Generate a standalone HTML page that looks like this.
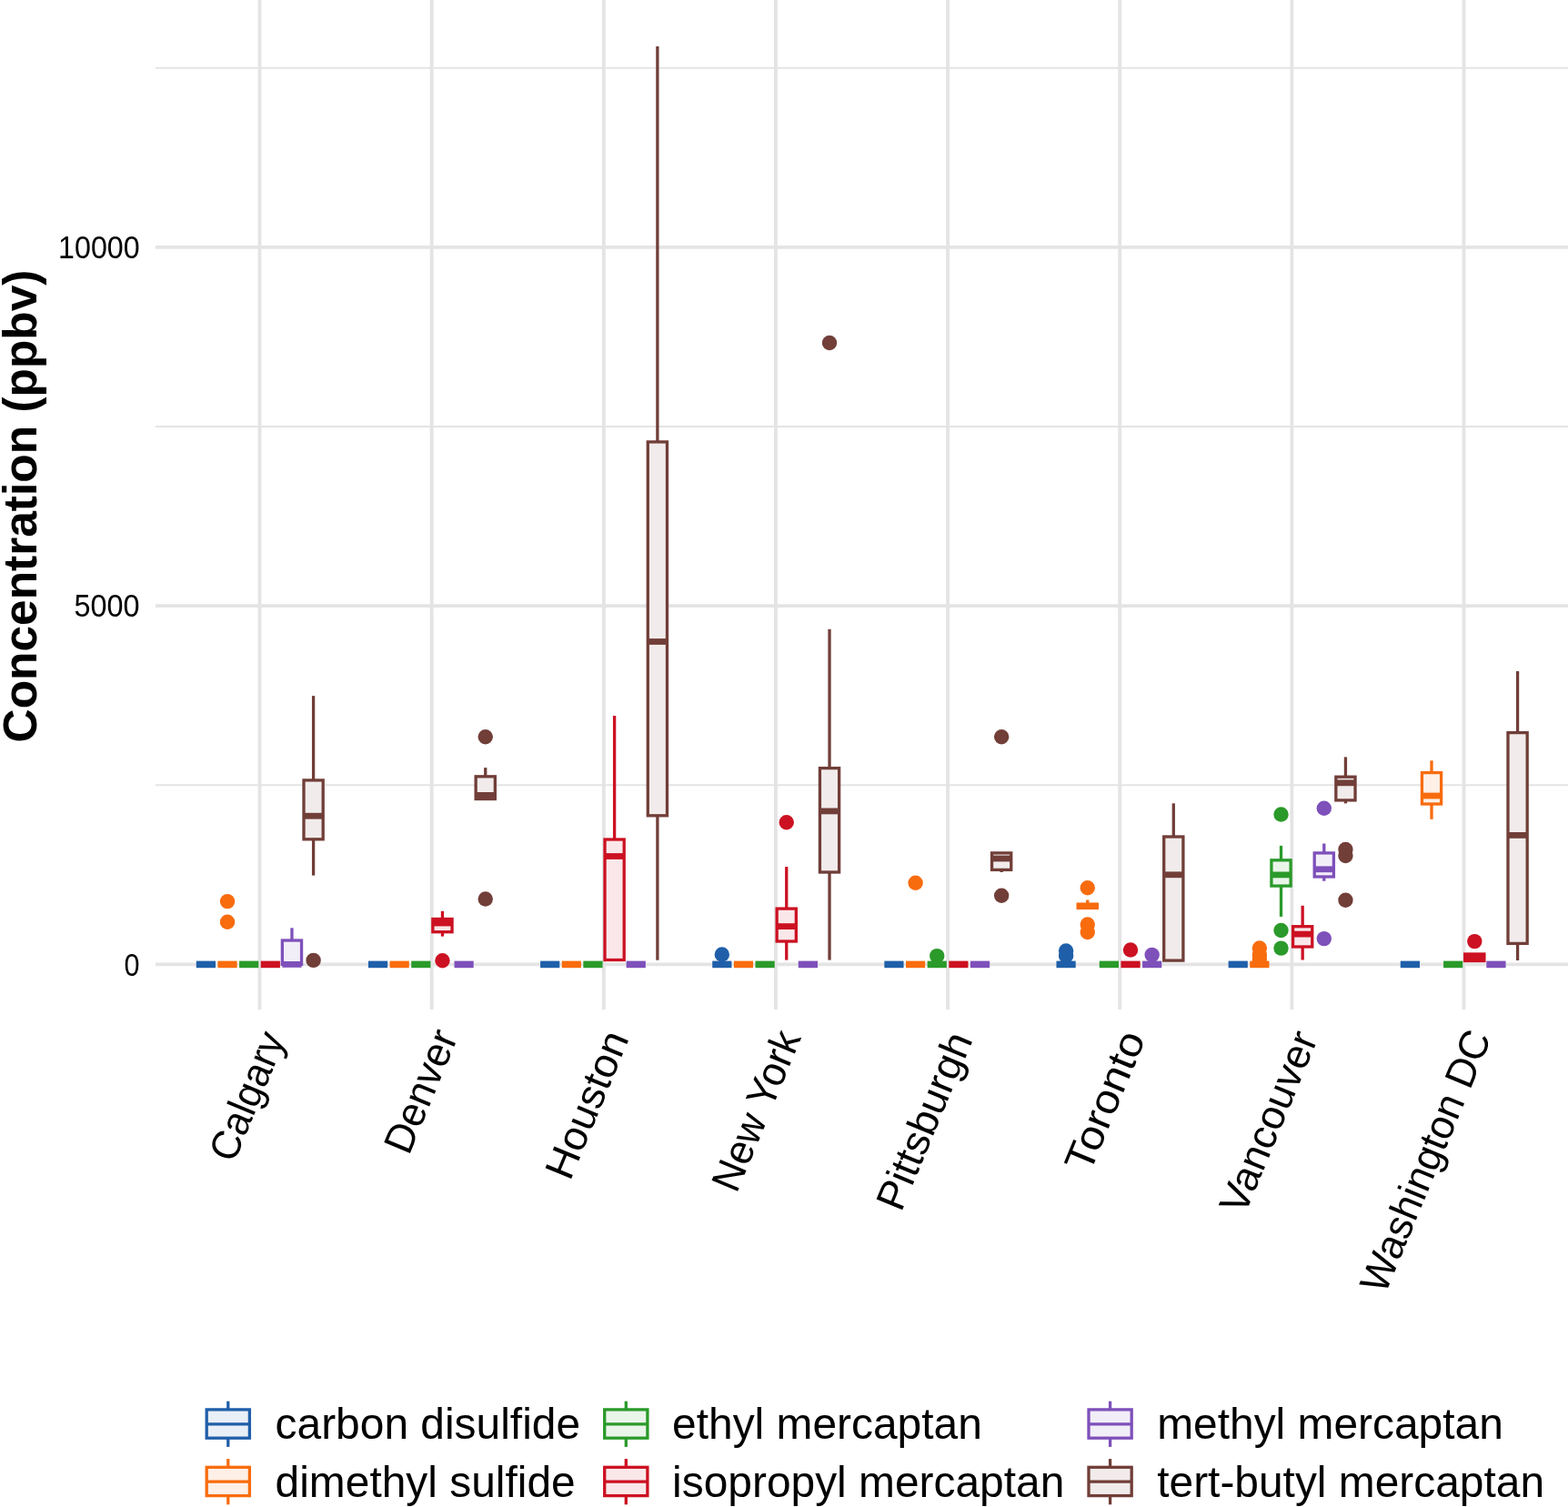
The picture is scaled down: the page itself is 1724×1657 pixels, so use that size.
<!DOCTYPE html><html><head><meta charset="utf-8"><title>Concentration boxplot</title><style>html,body{margin:0;padding:0;background:#fff;}svg{display:block;}text{font-family:"Liberation Sans",Arial,sans-serif;}</style></head><body>
<svg width="1724" height="1657" viewBox="0 0 1724 1657">
<rect x="0" y="0" width="1724" height="1657" fill="#ffffff"/>
<line x1="171.0" y1="863.25" x2="1724.0" y2="863.25" stroke="#e4e4e4" stroke-width="2.0"/>
<line x1="171.0" y1="468.95" x2="1724.0" y2="468.95" stroke="#e4e4e4" stroke-width="2.0"/>
<line x1="171.0" y1="74.65" x2="1724.0" y2="74.65" stroke="#e4e4e4" stroke-width="2.0"/>
<line x1="171.0" y1="1060.4" x2="1724.0" y2="1060.4" stroke="#e4e4e4" stroke-width="3.8"/>
<line x1="171.0" y1="666.1" x2="1724.0" y2="666.1" stroke="#e4e4e4" stroke-width="3.8"/>
<line x1="171.0" y1="271.8" x2="1724.0" y2="271.8" stroke="#e4e4e4" stroke-width="3.8"/>
<line x1="285.5" y1="0.0" x2="285.5" y2="1110.0" stroke="#e4e4e4" stroke-width="3.8"/>
<line x1="474.64" y1="0.0" x2="474.64" y2="1110.0" stroke="#e4e4e4" stroke-width="3.8"/>
<line x1="663.78" y1="0.0" x2="663.78" y2="1110.0" stroke="#e4e4e4" stroke-width="3.8"/>
<line x1="852.92" y1="0.0" x2="852.92" y2="1110.0" stroke="#e4e4e4" stroke-width="3.8"/>
<line x1="1042.06" y1="0.0" x2="1042.06" y2="1110.0" stroke="#e4e4e4" stroke-width="3.8"/>
<line x1="1231.2" y1="0.0" x2="1231.2" y2="1110.0" stroke="#e4e4e4" stroke-width="3.8"/>
<line x1="1420.34" y1="0.0" x2="1420.34" y2="1110.0" stroke="#e4e4e4" stroke-width="3.8"/>
<line x1="1609.48" y1="0.0" x2="1609.48" y2="1110.0" stroke="#e4e4e4" stroke-width="3.8"/>
<line x1="215.8" y1="1060.4" x2="237" y2="1060.4" stroke="#1f5fa9" stroke-width="7.6"/>
<circle cx="250.04" cy="991.1" r="8.2" fill="#f86c0e"/><circle cx="250.04" cy="1013.7" r="8.2" fill="#f86c0e"/><line x1="239.44" y1="1060.4" x2="260.64" y2="1060.4" stroke="#f86c0e" stroke-width="7.6"/>
<line x1="263.08" y1="1060.4" x2="284.28" y2="1060.4" stroke="#2a9a2a" stroke-width="7.6"/>
<line x1="286.72" y1="1060.4" x2="307.92" y2="1060.4" stroke="#cc1122" stroke-width="7.6"/>
<line x1="320.96" y1="1020.3" x2="320.96" y2="1034" stroke="#7e50ba" stroke-width="3.3"/><rect x="310.36" y="1034" width="21.2" height="26.4" fill="#f2eef8" stroke="#7e50ba" stroke-width="3.3" stroke-linejoin="miter"/><line x1="310.36" y1="1060.4" x2="331.56" y2="1060.4" stroke="#7e50ba" stroke-width="6.8"/>
<circle cx="344.6" cy="1055.9" r="8.2" fill="#713e38"/><line x1="344.6" y1="765.1" x2="344.6" y2="857.9" stroke="#713e38" stroke-width="3.3"/><line x1="344.6" y1="922.8" x2="344.6" y2="962.6" stroke="#713e38" stroke-width="3.3"/><rect x="334" y="857.9" width="21.2" height="64.9" fill="#f1eceb" stroke="#713e38" stroke-width="3.3" stroke-linejoin="miter"/><line x1="334" y1="897.2" x2="355.2" y2="897.2" stroke="#713e38" stroke-width="6.8"/>
<line x1="404.94" y1="1060.4" x2="426.14" y2="1060.4" stroke="#1f5fa9" stroke-width="7.6"/>
<line x1="428.58" y1="1060.4" x2="449.78" y2="1060.4" stroke="#f86c0e" stroke-width="7.6"/>
<line x1="452.22" y1="1060.4" x2="473.42" y2="1060.4" stroke="#2a9a2a" stroke-width="7.6"/>
<circle cx="486.46" cy="1056.2" r="8.2" fill="#cc1122"/><line x1="486.46" y1="1001.8" x2="486.46" y2="1010.5" stroke="#cc1122" stroke-width="3.3"/><line x1="486.46" y1="1024.7" x2="486.46" y2="1029.6" stroke="#cc1122" stroke-width="3.3"/><rect x="475.86" y="1010.5" width="21.2" height="14.2" fill="#fae7e9" stroke="#cc1122" stroke-width="3.3" stroke-linejoin="miter"/><line x1="475.86" y1="1015" x2="497.06" y2="1015" stroke="#cc1122" stroke-width="6.8"/>
<line x1="499.5" y1="1060.4" x2="520.7" y2="1060.4" stroke="#7e50ba" stroke-width="7.6"/>
<circle cx="533.74" cy="810.3" r="8.2" fill="#713e38"/><circle cx="533.74" cy="988.5" r="8.2" fill="#713e38"/><line x1="533.74" y1="844.1" x2="533.74" y2="853.8" stroke="#713e38" stroke-width="3.3"/><rect x="523.14" y="853.8" width="21.2" height="24.7" fill="#f1eceb" stroke="#713e38" stroke-width="3.3" stroke-linejoin="miter"/><line x1="523.14" y1="874.4" x2="544.34" y2="874.4" stroke="#713e38" stroke-width="6.8"/>
<line x1="594.08" y1="1060.4" x2="615.28" y2="1060.4" stroke="#1f5fa9" stroke-width="7.6"/>
<line x1="617.72" y1="1060.4" x2="638.92" y2="1060.4" stroke="#f86c0e" stroke-width="7.6"/>
<line x1="641.36" y1="1060.4" x2="662.56" y2="1060.4" stroke="#2a9a2a" stroke-width="7.6"/>
<line x1="675.6" y1="787.1" x2="675.6" y2="923" stroke="#cc1122" stroke-width="3.3"/><rect x="665" y="923" width="21.2" height="132.5" fill="#fae7e9" stroke="#cc1122" stroke-width="3.3" stroke-linejoin="miter"/><line x1="665" y1="941.5" x2="686.2" y2="941.5" stroke="#cc1122" stroke-width="6.8"/>
<line x1="688.64" y1="1060.4" x2="709.84" y2="1060.4" stroke="#7e50ba" stroke-width="7.6"/>
<line x1="722.88" y1="50.9" x2="722.88" y2="485.9" stroke="#713e38" stroke-width="3.3"/><line x1="722.88" y1="896.8" x2="722.88" y2="1055.7" stroke="#713e38" stroke-width="3.3"/><rect x="712.28" y="485.9" width="21.2" height="410.9" fill="#f1eceb" stroke="#713e38" stroke-width="3.3" stroke-linejoin="miter"/><line x1="712.28" y1="705.5" x2="733.48" y2="705.5" stroke="#713e38" stroke-width="6.8"/>
<circle cx="793.82" cy="1049.5" r="8.2" fill="#1f5fa9"/><line x1="783.22" y1="1060.4" x2="804.42" y2="1060.4" stroke="#1f5fa9" stroke-width="7.6"/>
<line x1="806.86" y1="1060.4" x2="828.06" y2="1060.4" stroke="#f86c0e" stroke-width="7.6"/>
<line x1="830.5" y1="1060.4" x2="851.7" y2="1060.4" stroke="#2a9a2a" stroke-width="7.6"/>
<circle cx="864.74" cy="904.2" r="8.2" fill="#cc1122"/><line x1="864.74" y1="953.1" x2="864.74" y2="999.1" stroke="#cc1122" stroke-width="3.3"/><line x1="864.74" y1="1035" x2="864.74" y2="1055.6" stroke="#cc1122" stroke-width="3.3"/><rect x="854.14" y="999.1" width="21.2" height="35.9" fill="#fae7e9" stroke="#cc1122" stroke-width="3.3" stroke-linejoin="miter"/><line x1="854.14" y1="1018.6" x2="875.34" y2="1018.6" stroke="#cc1122" stroke-width="6.8"/>
<line x1="877.78" y1="1060.4" x2="898.98" y2="1060.4" stroke="#7e50ba" stroke-width="7.6"/>
<circle cx="912.02" cy="377" r="8.2" fill="#713e38"/><line x1="912.02" y1="691.8" x2="912.02" y2="844.6" stroke="#713e38" stroke-width="3.3"/><line x1="912.02" y1="959" x2="912.02" y2="1055.6" stroke="#713e38" stroke-width="3.3"/><rect x="901.42" y="844.6" width="21.2" height="114.4" fill="#f1eceb" stroke="#713e38" stroke-width="3.3" stroke-linejoin="miter"/><line x1="901.42" y1="891.9" x2="922.62" y2="891.9" stroke="#713e38" stroke-width="6.8"/>
<line x1="972.36" y1="1060.4" x2="993.56" y2="1060.4" stroke="#1f5fa9" stroke-width="7.6"/>
<circle cx="1006.6" cy="970.8" r="8.2" fill="#f86c0e"/><line x1="996" y1="1060.4" x2="1017.2" y2="1060.4" stroke="#f86c0e" stroke-width="7.6"/>
<circle cx="1030.24" cy="1051.1" r="8.2" fill="#2a9a2a"/><line x1="1019.64" y1="1060.4" x2="1040.84" y2="1060.4" stroke="#2a9a2a" stroke-width="7.6"/>
<line x1="1043.28" y1="1060.4" x2="1064.48" y2="1060.4" stroke="#cc1122" stroke-width="7.6"/>
<line x1="1066.92" y1="1060.4" x2="1088.12" y2="1060.4" stroke="#7e50ba" stroke-width="7.6"/>
<circle cx="1101.16" cy="810.3" r="8.2" fill="#713e38"/><circle cx="1101.16" cy="984.7" r="8.2" fill="#713e38"/><line x1="1101.16" y1="956.4" x2="1101.16" y2="959" stroke="#713e38" stroke-width="3.3"/><rect x="1090.56" y="937.9" width="21.2" height="18.5" fill="#f1eceb" stroke="#713e38" stroke-width="3.3" stroke-linejoin="miter"/><line x1="1090.56" y1="944" x2="1111.76" y2="944" stroke="#713e38" stroke-width="6.8"/>
<circle cx="1172.1" cy="1045.5" r="8.2" fill="#1f5fa9"/><circle cx="1172.1" cy="1051" r="8.2" fill="#1f5fa9"/><line x1="1161.5" y1="1060.4" x2="1182.7" y2="1060.4" stroke="#1f5fa9" stroke-width="7.6"/>
<circle cx="1195.74" cy="976.3" r="8.2" fill="#f86c0e"/><circle cx="1195.74" cy="1016.5" r="8.2" fill="#f86c0e"/><circle cx="1195.74" cy="1025" r="8.2" fill="#f86c0e"/><line x1="1195.74" y1="989.5" x2="1195.74" y2="994.2" stroke="#f86c0e" stroke-width="3.3"/><rect x="1185.14" y="994.2" width="21.2" height="4.2" fill="#fef0e7" stroke="#f86c0e" stroke-width="3.3" stroke-linejoin="miter"/><line x1="1185.14" y1="996.2" x2="1206.34" y2="996.2" stroke="#f86c0e" stroke-width="6.8"/>
<line x1="1208.78" y1="1060.4" x2="1229.98" y2="1060.4" stroke="#2a9a2a" stroke-width="7.6"/>
<circle cx="1243.02" cy="1044.5" r="8.2" fill="#cc1122"/><line x1="1232.42" y1="1060.4" x2="1253.62" y2="1060.4" stroke="#cc1122" stroke-width="7.6"/>
<circle cx="1266.66" cy="1049.9" r="8.2" fill="#7e50ba"/><line x1="1256.06" y1="1060.4" x2="1277.26" y2="1060.4" stroke="#7e50ba" stroke-width="7.6"/>
<line x1="1290.3" y1="883.3" x2="1290.3" y2="920" stroke="#713e38" stroke-width="3.3"/><rect x="1279.7" y="920" width="21.2" height="136.1" fill="#f1eceb" stroke="#713e38" stroke-width="3.3" stroke-linejoin="miter"/><line x1="1279.7" y1="961.8" x2="1300.9" y2="961.8" stroke="#713e38" stroke-width="6.8"/>
<line x1="1350.64" y1="1060.4" x2="1371.84" y2="1060.4" stroke="#1f5fa9" stroke-width="7.6"/>
<circle cx="1384.88" cy="1042.5" r="8.2" fill="#f86c0e"/><circle cx="1384.88" cy="1050" r="8.2" fill="#f86c0e"/><circle cx="1384.88" cy="1055" r="8.2" fill="#f86c0e"/><line x1="1374.28" y1="1060.4" x2="1395.48" y2="1060.4" stroke="#f86c0e" stroke-width="7.6"/>
<circle cx="1408.52" cy="895.5" r="8.2" fill="#2a9a2a"/><circle cx="1408.52" cy="1023" r="8.2" fill="#2a9a2a"/><circle cx="1408.52" cy="1042.6" r="8.2" fill="#2a9a2a"/><line x1="1408.52" y1="929.9" x2="1408.52" y2="945.8" stroke="#2a9a2a" stroke-width="3.3"/><line x1="1408.52" y1="974.1" x2="1408.52" y2="1007.9" stroke="#2a9a2a" stroke-width="3.3"/><rect x="1397.92" y="945.8" width="21.2" height="28.3" fill="#eaf5ea" stroke="#2a9a2a" stroke-width="3.3" stroke-linejoin="miter"/><line x1="1397.92" y1="961.9" x2="1419.12" y2="961.9" stroke="#2a9a2a" stroke-width="6.8"/>
<line x1="1432.16" y1="995.8" x2="1432.16" y2="1018.7" stroke="#cc1122" stroke-width="3.3"/><line x1="1432.16" y1="1041" x2="1432.16" y2="1055.5" stroke="#cc1122" stroke-width="3.3"/><rect x="1421.56" y="1018.7" width="21.2" height="22.3" fill="#fae7e9" stroke="#cc1122" stroke-width="3.3" stroke-linejoin="miter"/><line x1="1421.56" y1="1027.1" x2="1442.76" y2="1027.1" stroke="#cc1122" stroke-width="6.8"/>
<circle cx="1455.8" cy="888.7" r="8.2" fill="#7e50ba"/><circle cx="1455.8" cy="1032.1" r="8.2" fill="#7e50ba"/><line x1="1455.8" y1="927.5" x2="1455.8" y2="937.9" stroke="#7e50ba" stroke-width="3.3"/><line x1="1455.8" y1="964" x2="1455.8" y2="968.7" stroke="#7e50ba" stroke-width="3.3"/><rect x="1445.2" y="937.9" width="21.2" height="26.1" fill="#f2eef8" stroke="#7e50ba" stroke-width="3.3" stroke-linejoin="miter"/><line x1="1445.2" y1="955.8" x2="1466.4" y2="955.8" stroke="#7e50ba" stroke-width="6.8"/>
<circle cx="1479.44" cy="934" r="8.2" fill="#713e38"/><circle cx="1479.44" cy="941" r="8.2" fill="#713e38"/><circle cx="1479.44" cy="989.8" r="8.2" fill="#713e38"/><line x1="1479.44" y1="832.4" x2="1479.44" y2="854.2" stroke="#713e38" stroke-width="3.3"/><line x1="1479.44" y1="879.9" x2="1479.44" y2="883.4" stroke="#713e38" stroke-width="3.3"/><rect x="1468.84" y="854.2" width="21.2" height="25.7" fill="#f1eceb" stroke="#713e38" stroke-width="3.3" stroke-linejoin="miter"/><line x1="1468.84" y1="860.8" x2="1490.04" y2="860.8" stroke="#713e38" stroke-width="6.8"/>
<line x1="1539.78" y1="1060.4" x2="1560.98" y2="1060.4" stroke="#1f5fa9" stroke-width="7.6"/>
<line x1="1574.02" y1="836.3" x2="1574.02" y2="849.6" stroke="#f86c0e" stroke-width="3.3"/><line x1="1574.02" y1="884" x2="1574.02" y2="900.8" stroke="#f86c0e" stroke-width="3.3"/><rect x="1563.42" y="849.6" width="21.2" height="34.4" fill="#fef0e7" stroke="#f86c0e" stroke-width="3.3" stroke-linejoin="miter"/><line x1="1563.42" y1="875" x2="1584.62" y2="875" stroke="#f86c0e" stroke-width="6.8"/>
<line x1="1587.06" y1="1060.4" x2="1608.26" y2="1060.4" stroke="#2a9a2a" stroke-width="7.6"/>
<circle cx="1621.3" cy="1035.1" r="8.2" fill="#cc1122"/><rect x="1610.7" y="1049" width="21.2" height="7.5" fill="#fae7e9" stroke="#cc1122" stroke-width="3.3" stroke-linejoin="miter"/><line x1="1610.7" y1="1053" x2="1631.9" y2="1053" stroke="#cc1122" stroke-width="6.8"/>
<line x1="1634.34" y1="1060.4" x2="1655.54" y2="1060.4" stroke="#7e50ba" stroke-width="7.6"/>
<line x1="1668.58" y1="738" x2="1668.58" y2="805.6" stroke="#713e38" stroke-width="3.3"/><line x1="1668.58" y1="1037.4" x2="1668.58" y2="1056" stroke="#713e38" stroke-width="3.3"/><rect x="1657.98" y="805.6" width="21.2" height="231.8" fill="#f1eceb" stroke="#713e38" stroke-width="3.3" stroke-linejoin="miter"/><line x1="1657.98" y1="918.4" x2="1679.18" y2="918.4" stroke="#713e38" stroke-width="6.8"/>
<text x="153.6" y="1072.6" font-size="34.5" text-anchor="end" textLength="17.0" lengthAdjust="spacingAndGlyphs" fill="#000">0</text>
<text x="153.6" y="678.3" font-size="34.5" text-anchor="end" textLength="72.0" lengthAdjust="spacingAndGlyphs" fill="#000">5000</text>
<text x="153.6" y="284" font-size="34.5" text-anchor="end" textLength="89.5" lengthAdjust="spacingAndGlyphs" fill="#000">10000</text>
<text transform="translate(39.6,556.5) rotate(-90)" font-size="51.5" font-weight="bold" text-anchor="middle" textLength="520" lengthAdjust="spacingAndGlyphs" fill="#000">Concentration (ppbv)</text>
<text transform="translate(314.1,1142.3) rotate(-67.5)" font-size="45" text-anchor="end" textLength="148.85" lengthAdjust="spacingAndGlyphs" fill="#000">Calgary</text>
<text transform="translate(503.8,1140) rotate(-67.5)" font-size="45" text-anchor="end" textLength="142.15" lengthAdjust="spacingAndGlyphs" fill="#000">Denver</text>
<text transform="translate(692.1,1141.5) rotate(-67.5)" font-size="45" text-anchor="end" textLength="170.95" lengthAdjust="spacingAndGlyphs" fill="#000">Houston</text>
<text transform="translate(881.15,1140.9) rotate(-67.5)" font-size="45" text-anchor="end" textLength="186.3" lengthAdjust="spacingAndGlyphs" fill="#000">New York</text>
<text transform="translate(1069.95,1142.85) rotate(-67.5)" font-size="45" text-anchor="end" textLength="206.65" lengthAdjust="spacingAndGlyphs" fill="#000">Pittsburgh</text>
<text transform="translate(1259.95,1141.5) rotate(-67.5)" font-size="45" text-anchor="end" textLength="162.09" lengthAdjust="spacingAndGlyphs" fill="#000">Toronto</text>
<text transform="translate(1449.4,1141.55) rotate(-67.5)" font-size="45" text-anchor="end" textLength="211.78" lengthAdjust="spacingAndGlyphs" fill="#000">Vancouver</text>
<text transform="translate(1640.3,1140.5) rotate(-67.5)" font-size="45" text-anchor="end" textLength="307.18" lengthAdjust="spacingAndGlyphs" fill="#000">Washington DC</text>
<line x1="250.8" y1="1540.7" x2="250.8" y2="1549.9" stroke="#1f5fa9" stroke-width="3.3"/>
<line x1="250.8" y1="1581.2" x2="250.8" y2="1590.9" stroke="#1f5fa9" stroke-width="3.3"/>
<rect x="227.2" y="1549.9" width="47.2" height="31.3" fill="#e9eff6" stroke="#1f5fa9" stroke-width="3.3"/>
<line x1="227.2" y1="1565.8" x2="274.4" y2="1565.8" stroke="#1f5fa9" stroke-width="3.3"/>
<text x="302.59999999999997" y="1582.4" font-size="47.9" fill="#000">carbon disulfide</text>
<line x1="250.8" y1="1604.1" x2="250.8" y2="1613.3" stroke="#f86c0e" stroke-width="3.3"/>
<line x1="250.8" y1="1644.6" x2="250.8" y2="1654.3" stroke="#f86c0e" stroke-width="3.3"/>
<rect x="227.2" y="1613.3" width="47.2" height="31.3" fill="#fef0e7" stroke="#f86c0e" stroke-width="3.3"/>
<line x1="227.2" y1="1629.2" x2="274.4" y2="1629.2" stroke="#f86c0e" stroke-width="3.3"/>
<text x="302.59999999999997" y="1645.8" font-size="47.9" fill="#000">dimethyl sulfide</text>
<line x1="688.3" y1="1540.7" x2="688.3" y2="1549.9" stroke="#2a9a2a" stroke-width="3.3"/>
<line x1="688.3" y1="1581.2" x2="688.3" y2="1590.9" stroke="#2a9a2a" stroke-width="3.3"/>
<rect x="664.7" y="1549.9" width="47.2" height="31.3" fill="#eaf5ea" stroke="#2a9a2a" stroke-width="3.3"/>
<line x1="664.7" y1="1565.8" x2="711.9" y2="1565.8" stroke="#2a9a2a" stroke-width="3.3"/>
<text x="739.1" y="1582.4" font-size="47.9" fill="#000">ethyl mercaptan</text>
<line x1="688.3" y1="1604.1" x2="688.3" y2="1613.3" stroke="#cc1122" stroke-width="3.3"/>
<line x1="688.3" y1="1644.6" x2="688.3" y2="1654.3" stroke="#cc1122" stroke-width="3.3"/>
<rect x="664.7" y="1613.3" width="47.2" height="31.3" fill="#fae7e9" stroke="#cc1122" stroke-width="3.3"/>
<line x1="664.7" y1="1629.2" x2="711.9" y2="1629.2" stroke="#cc1122" stroke-width="3.3"/>
<text x="739.1" y="1645.8" font-size="47.9" fill="#000">isopropyl mercaptan</text>
<line x1="1220.6" y1="1540.7" x2="1220.6" y2="1549.9" stroke="#7e50ba" stroke-width="3.3"/>
<line x1="1220.6" y1="1581.2" x2="1220.6" y2="1590.9" stroke="#7e50ba" stroke-width="3.3"/>
<rect x="1197" y="1549.9" width="47.2" height="31.3" fill="#f2eef8" stroke="#7e50ba" stroke-width="3.3"/>
<line x1="1197" y1="1565.8" x2="1244.2" y2="1565.8" stroke="#7e50ba" stroke-width="3.3"/>
<text x="1272.2" y="1582.4" font-size="47.9" fill="#000">methyl mercaptan</text>
<line x1="1220.6" y1="1604.1" x2="1220.6" y2="1613.3" stroke="#713e38" stroke-width="3.3"/>
<line x1="1220.6" y1="1644.6" x2="1220.6" y2="1654.3" stroke="#713e38" stroke-width="3.3"/>
<rect x="1197" y="1613.3" width="47.2" height="31.3" fill="#f1eceb" stroke="#713e38" stroke-width="3.3"/>
<line x1="1197" y1="1629.2" x2="1244.2" y2="1629.2" stroke="#713e38" stroke-width="3.3"/>
<text x="1272.2" y="1645.8" font-size="47.9" fill="#000">tert-butyl mercaptan</text>
</svg></body></html>
